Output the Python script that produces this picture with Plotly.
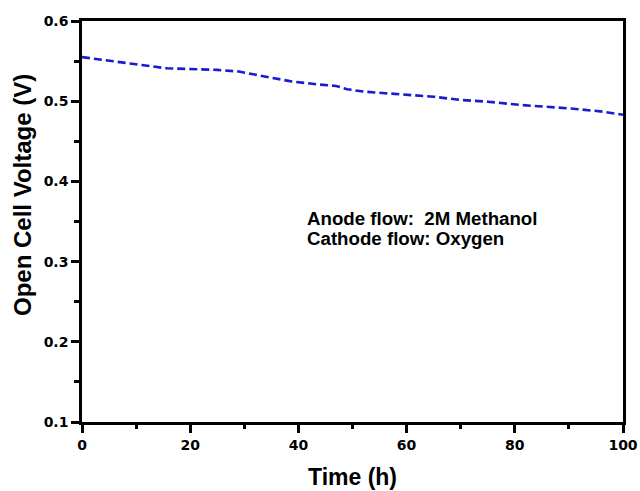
import plotly.graph_objects as go

time_h = [0, 5.2, 10, 15.7, 20, 25, 29, 34, 38.4, 43.4, 47, 49, 52, 56, 59.3, 65, 70, 75, 81, 86, 90.2, 96.3, 100]
voltage = [0.555, 0.550, 0.546, 0.541, 0.540, 0.539, 0.537, 0.531, 0.525, 0.521, 0.519, 0.515, 0.512, 0.510, 0.5086, 0.5056, 0.5015, 0.4994, 0.4953, 0.493, 0.491, 0.487, 0.483]

x_ticks = [0, 20, 40, 60, 80, 100]
y_ticks = [0.1, 0.2, 0.3, 0.4, 0.5, 0.6]

TICK_FONT = dict(family="DejaVu Sans", size=14, color="black", weight="bold")
TEXT_FONT = "Liberation Sans, Arial"

L, R, T, B = 82, 17, 21, 69
PW, PH = 640 - L - R, 491 - T - B

fig = go.Figure()
fig.add_trace(go.Scatter(
    x=time_h, y=voltage, mode="lines",
    line=dict(color="#1a1ad0", width=2.6, dash="8px,4px"),
    showlegend=False,
))

axis_common = dict(
    showline=True, linecolor="black", linewidth=2.5, mirror=True,
    ticks="outside", ticklen=8, tickwidth=2.5, tickcolor="black",
    showgrid=False, zeroline=False, automargin=False,
    tickfont=TICK_FONT,
)

fig.update_xaxes(
    range=[0, 100], tickvals=x_ticks, ticktext=[str(v) for v in x_ticks],
    minor=dict(ticks="outside", ticklen=4, tickwidth=2.5, tickcolor="black", dtick=10, tick0=0, showgrid=False),
    **axis_common,
)
fig.update_yaxes(
    range=[0.1, 0.6], tickvals=y_ticks, ticktext=[f"{v:.1f}" for v in y_ticks],
    minor=dict(ticks="outside", ticklen=5, tickwidth=2.5, tickcolor="black", dtick=0.05, tick0=0.1, showgrid=False),
    **axis_common,
)

# axis titles (placed as paper annotations to match reference positions)
fig.add_annotation(
    xref="paper", yref="paper", x=(352 - L) / PW, y=(491 - B - 477) / PH,
    showarrow=False, xanchor="center", yanchor="middle",
    text="<b>Time (h)</b>", font=dict(family=TEXT_FONT, size=23, color="black"),
)
fig.add_annotation(
    xref="paper", yref="paper", x=(23 - L) / PW, y=(491 - B - 195) / PH,
    showarrow=False, xanchor="center", yanchor="middle",
    textangle=-90, text="<b>Open Cell Voltage (V)</b>",
    font=dict(family=TEXT_FONT, size=24, color="black"),
)

fig.add_annotation(
    x=41.2, y=0.354, xref="x", yref="y", xanchor="left", yanchor="middle",
    text="<b>Anode flow:  2M Methanol</b>", showarrow=False, align="left",
    font=dict(family=TEXT_FONT, size=18.7, color="black"),
)
fig.add_annotation(
    x=41.2, y=0.329, xref="x", yref="y", xanchor="left", yanchor="middle",
    text="<b>Cathode flow: Oxygen</b>", showarrow=False, align="left",
    font=dict(family=TEXT_FONT, size=18.7, color="black"),
)

fig.update_layout(
    width=640, height=491,
    margin=dict(l=L, r=R, t=T, b=B, autoexpand=False),
    paper_bgcolor="white", plot_bgcolor="white",
)

fig.write_html("out.html")
